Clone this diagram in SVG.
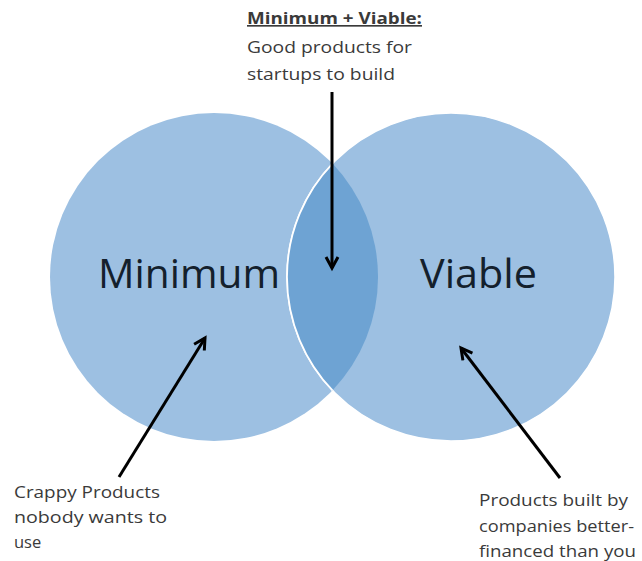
<svg xmlns="http://www.w3.org/2000/svg" width="642" height="561" viewBox="0 0 642 561">
<style>
.circ{fill:#9dc0e2}
.lens{fill:#6ea3d3}
.big{font-family:"Open Sans","DejaVu Sans",sans-serif;font-size:40px;fill:#14202c}
.lbl{font-family:"Open Sans","DejaVu Sans",sans-serif;font-size:16.5px;fill:#3a3a3a}
.conn{stroke:#000;stroke-width:3;fill:none;marker-end:url(#ah)}
</style>
<defs>
<marker id="ah" markerUnits="userSpaceOnUse" markerWidth="16" markerHeight="16" refX="12" refY="7" orient="auto" viewBox="0 0 16 14">
<path d="M1,1 L12,7 L1,13" fill="none" stroke="#000" stroke-width="3" stroke-linejoin="miter"/>
</marker>
</defs>
<rect width="642" height="561" fill="#fff"/>
<g id="minimum">
<circle class="circ" cx="214" cy="277" r="164"/>
</g>
<g id="viable">
<circle class="circ" cx="451" cy="277" r="164" stroke="#fff" stroke-width="1.5"/>
</g>
<g id="overlap">
<path class="lens" d="M332.5,163.6 A164,164 0 0,1 332.5,390.4 A164,164 0 0,1 332.5,163.6 Z"/>
<path d="M332.5,390.4 A164,164 0 0,1 332.5,163.6" fill="none" stroke="#fff" stroke-width="1.8"/>
</g>
<g id="minimum-label">
<text class="big" x="98" y="288" textLength="182" lengthAdjust="spacingAndGlyphs">Minimum</text>
</g>
<g id="viable-label">
<text class="big" x="420" y="288" textLength="117" lengthAdjust="spacingAndGlyphs">Viable</text>
</g>
<g id="top-note">
<text class="lbl" x="247" y="24" font-weight="bold" text-decoration="underline" textLength="175" lengthAdjust="spacingAndGlyphs">Minimum + Viable:</text>
<text class="lbl" x="247" y="53" textLength="165" lengthAdjust="spacingAndGlyphs">Good products for</text>
<text class="lbl" x="247" y="80" textLength="148" lengthAdjust="spacingAndGlyphs">startups to build</text>
</g>
<g id="left-note">
<text class="lbl" x="14" y="498" textLength="146" lengthAdjust="spacingAndGlyphs">Crappy Products</text>
<text class="lbl" x="14" y="523" textLength="153" lengthAdjust="spacingAndGlyphs">nobody wants to</text>
<text class="lbl" x="14" y="548">use</text>
</g>
<g id="right-note">
<text class="lbl" x="479" y="506" textLength="149" lengthAdjust="spacingAndGlyphs">Products built by</text>
<text class="lbl" x="479" y="532" textLength="155" lengthAdjust="spacingAndGlyphs">companies better-</text>
<text class="lbl" x="479" y="557" textLength="157" lengthAdjust="spacingAndGlyphs">financed than you</text>
</g>
<g id="connectors">
<line class="conn" x1="332" y1="92" x2="332" y2="268"/>
<line class="conn" x1="119" y1="477" x2="205" y2="338"/>
<line class="conn" x1="560" y1="478" x2="461" y2="348"/>
</g>
</svg>
